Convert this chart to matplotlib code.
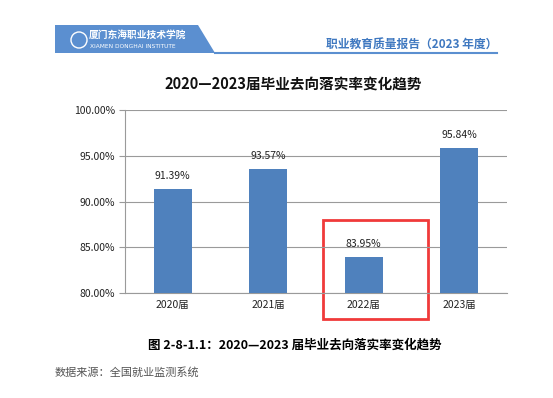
import matplotlib.pyplot as plt
from matplotlib.patches import Rectangle, Polygon
from matplotlib.ticker import FuncFormatter

plt.rcParams['font.family'] = ['Noto Sans CJK SC', 'DejaVu Sans']

# 数据
years = ["2020届", "2021届", "2022届", "2023届"]
rates = [91.39, 93.57, 83.95, 95.84]
yticks = [80, 85, 90, 95, 100]

fig = plt.figure(figsize=(5.53, 3.98), dpi=100)

# 页眉
hdr = fig.add_axes([0, 0, 1, 1], zorder=0)
hdr.set_xlim(0, 553)
hdr.set_ylim(398, 0)
hdr.axis("off")
hdr.add_patch(Polygon([[55, 25], [198, 25], [215, 53], [55, 53]], closed=True,
                      color="#5b8fd0", lw=0))
hdr.plot([215, 497], [52.5, 52.5], color="#5b8fd0", lw=1.5)
hdr.text(89, 35, "厦门东海职业技术学院", color="white", fontsize=7,
         ha="left", va="center", fontweight="bold")
hdr.text(90, 46.5, "XIAMEN DONGHAI INSTITUTE", color="white", fontsize=4.2,
         ha="left", va="center", family=["DejaVu Sans"])
hdr.add_patch(plt.Circle((79, 40), 8, color="white", fill=False, lw=1))
hdr.text(497, 45, "职业教育质量报告（2023 年度）", color="#3f78c0", fontsize=8.5,
         ha="right", va="center", fontweight="bold")

# 标题与注释
hdr.text(293, 85, "2020—2023届毕业去向落实率变化趋势", fontsize=10.5,
         fontweight="bold", ha="center", va="center", color="#111111")
hdr.text(295, 345, "图 2-8-1.1：2020—2023 届毕业去向落实率变化趋势", fontsize=9,
         fontweight="bold", ha="center", va="center", color="black")
hdr.text(55, 372, "数据来源：全国就业监测系统", fontsize=8, ha="left",
         va="center", color="#555555")

# 主图
ax = fig.add_axes([125 / 553, 1 - 293 / 398, 382 / 553, 183 / 398], zorder=1)
ax.patch.set_alpha(0)
x = range(len(years))
ax.bar(x, rates, width=0.4, color="#4f81bd", zorder=3)
for i, v in zip(x, rates):
    ax.text(i, v + 0.9, f"{v:.2f}%", ha="center", va="bottom", fontsize=7.5,
            color="#222222")

ax.set_ylim(80, 100)
ax.set_xlim(-0.5, 3.5)
ax.set_yticks(yticks)
ax.yaxis.set_major_formatter(FuncFormatter(lambda v, p: f"{v:.2f}%"))
ax.set_xticks(list(x))
ax.set_xticklabels(years)
ax.tick_params(axis="y", labelsize=7.5, length=4, color="#9a9a9a", pad=3,
               labelcolor="#222222")
ax.tick_params(axis="x", labelsize=7.5, length=0, pad=5, labelcolor="#222222")
ax.grid(axis="y", color="#9a9a9a", lw=0.8, zorder=0)
for s in ["top", "right"]:
    ax.spines[s].set_visible(False)
ax.spines["left"].set_color("#9a9a9a")
ax.spines["bottom"].set_color("#9a9a9a")

# 红框标注
hdr.add_patch(Rectangle((323, 220), 105, 99, fill=False, edgecolor="#f03a3a",
                        lw=2, zorder=5))

fig.savefig("out.png", dpi=100)
